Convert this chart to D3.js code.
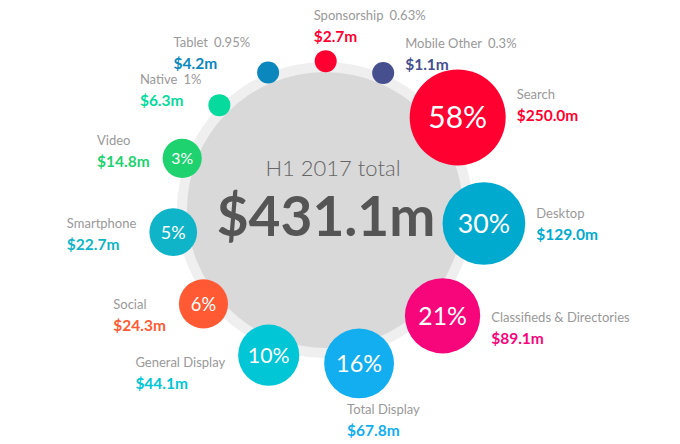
<!DOCTYPE html>
<html>
<head>
<meta charset="utf-8">
<script src="https://cdn.jsdelivr.net/npm/d3@7"></script>
<style>
  body { margin: 0; background: #fff; }
  text { font-family: Lato, "Open Sans", sans-serif; }
</style>
</head>
<body>
<div id="chart-area"></div>
<script>
// H1 2017 ad spend by category, clockwise from Search
var categories = ["Search", "Desktop", "Classifieds & Directories", "Total Display",
  "General Display", "Social", "Smartphone", "Video", "Native", "Tablet",
  "Sponsorship", "Mobile Other"];
var values = [250.0, 129.0, 89.1, 67.8, 44.1, 24.3, 22.7, 14.8, 6.3, 4.2, 2.7, 1.1];
var shares = [58, 30, 21, 16, 10, 6, 5, 3, 1, 0.95, 0.63, 0.3];
var colors = ["#ff0030", "#00aacf", "#f7057a", "#12aef0", "#00c6d6", "#ff5a33",
  "#10b4c8", "#1ed26f", "#06da9c", "#0b87bd", "#ff0030", "#46508f"];
var totalLabel = "H1 2017 total";
var totalValue = 431.1;

var width = 680, height = 444;
var cx = 325, cy = 210;

var svg = d3.select("#chart-area")
  .append("svg")
    .attr("width", width)
    .attr("height", height);

var data = categories.map(function(c, i) {
  return { name: c, value: values[i], share: shares[i], color: colors[i] };
});

// bubble size
var r = d3.scaleLog()
  .domain([6.3, 250])
  .range([11, 48])
  .clamp(true);

// spread bubbles round the ring, each taking room for its size
var pie = d3.pie()
  .sort(null)
  .value(function(d) { return r(d.value) + 34; })
  .startAngle(0.6)
  .endAngle(0.6 + 2 * Math.PI);

var money = d3.format(".1f");

var arcs = pie(data);
arcs.forEach(function(a) {
  var d = a.data;
  d.r = r(d.value);
  d.angle = (a.startAngle + a.endAngle) / 2;
  var dist = 145 + 0.35 * d.r;
  d.x = cx + dist * Math.sin(d.angle);
  d.y = cy - dist * Math.cos(d.angle);
});

// big circle
svg.append("circle")
  .attr("cx", cx).attr("cy", cy).attr("r", 148)
  .attr("fill", "#efefef");
svg.append("circle")
  .attr("cx", cx).attr("cy", cy).attr("r", 138)
  .attr("fill", "#d9d9d9");

svg.append("text")
  .attr("x", cx + 8)
  .attr("y", 176)
  .attr("text-anchor", "middle")
  .attr("font-size", "22px")
  .attr("font-weight", 300)
  .attr("fill", "#666")
  .text(totalLabel);

svg.append("text")
  .attr("x", cx + 1)
  .attr("y", 236)
  .attr("text-anchor", "middle")
  .attr("font-size", "55px")
  .attr("font-weight", 700)
  .attr("fill", "#555")
  .text("$" + money(totalValue) + "m");

// bubbles
var bubble = svg.selectAll(".bubble")
  .data(data)
  .enter().append("g")
    .attr("class", "bubble")
    .attr("transform", function(d) { return "translate(" + d.x + "," + d.y + ")"; });

bubble.append("circle")
  .attr("r", function(d) { return d.r; })
  .attr("fill", function(d) { return d.color; });

bubble.filter(function(d) { return d.share >= 3; })
  .append("text")
    .attr("text-anchor", "middle")
    .attr("dy", "0.36em")
    .attr("fill", "#fff")
    .attr("font-size", function(d) { return (6 + 0.5 * d.r) + "px"; })
    .text(function(d) { return d.share + "%"; });

// labels
var labels = svg.selectAll(".label")
  .data(data)
  .enter().append("g")
    .attr("class", "label");

var names = labels.append("text")
  .attr("y", 11)
  .attr("font-size", "13px")
  .attr("fill", "#999");
names.append("tspan")
  .text(function(d) { return d.name; });
names.filter(function(d) { return d.share < 3; })
  .append("tspan")
    .attr("dx", 6)
    .text(function(d) { return d.share + "%"; });

labels.append("text")
  .attr("class", "amount")
  .attr("y", 33)
  .attr("font-size", "15.5px")
  .attr("font-weight", 700)
  .attr("fill", function(d) { return d.color; })
  .text(function(d) { return "$" + money(d.value) + "m"; });

labels.attr("transform", function(d) {
  var c = Math.cos(d.angle - Math.PI / 2),
      s = Math.sin(d.angle - Math.PI / 2);
  var w = d3.max(d3.select(this).selectAll("text").nodes(), function(n) {
    return n.getComputedTextLength();
  });
  var x, top;
  if (c > 0.3) {
    x = d.x + d.r + 11;
    top = d.y + s * 20 - 18;
  } else if (c < -0.3) {
    x = d.x - d.r - 13 - w;
    top = d.y + s * 20 - 18;
  } else {
    x = d.x - 12;
    top = s < 0 ? d.y - d.r - 41 : d.y + d.r + 5;
  }
  return "translate(" + x + "," + top + ")";
});
</script>
</body>
</html>
